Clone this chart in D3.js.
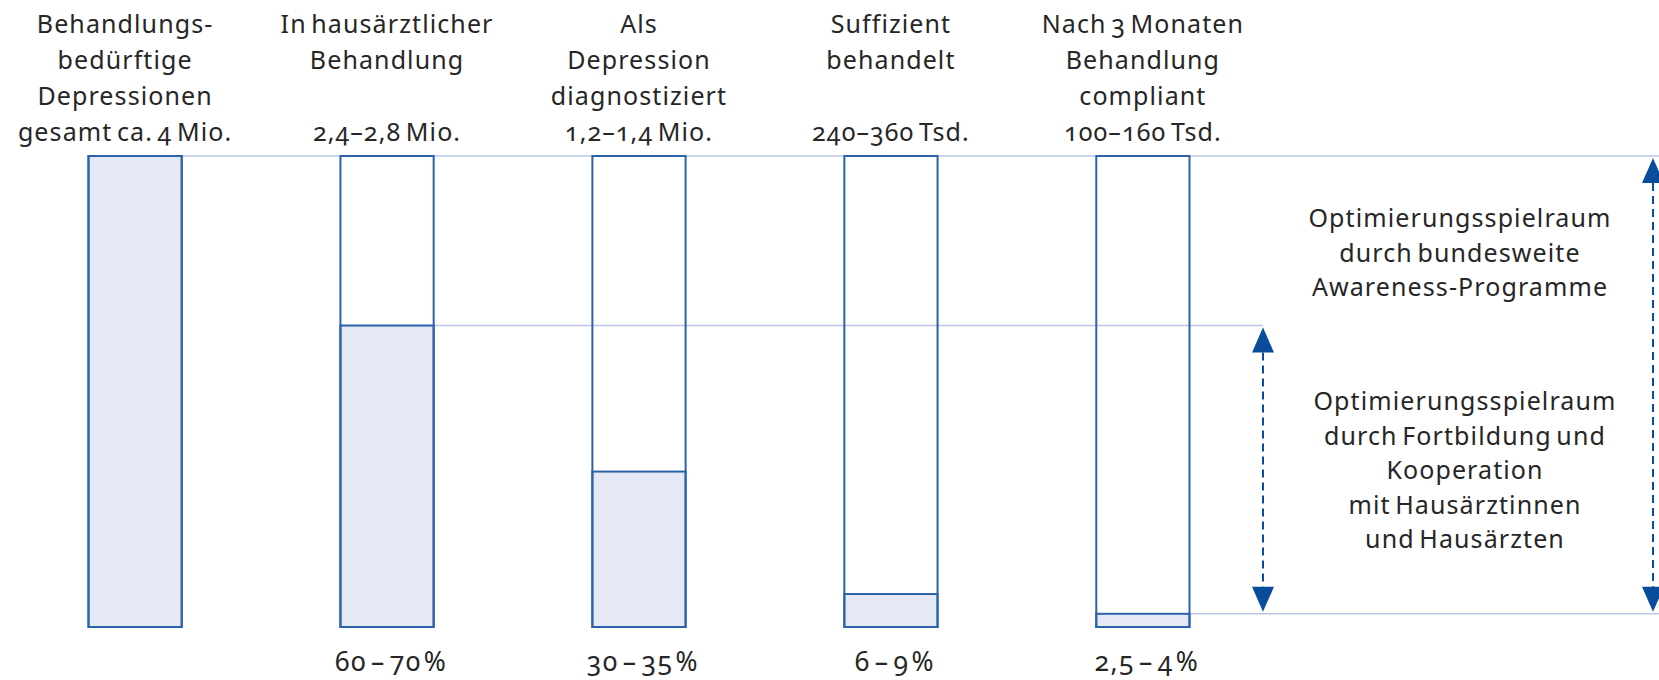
<!DOCTYPE html>
<html lang="de">
<head>
<meta charset="utf-8">
<script src="https://cdn.jsdelivr.net/npm/d3@7/dist/d3.min.js"></script>
<style>
  html, body { margin: 0; padding: 0; background: #fff; }
  svg text {
    font-family: "Noto Sans", "Open Sans", sans-serif;
    fill: #262626;
    font-variant-numeric: oldstyle-nums;
    font-feature-settings: "onum" 1;
  }
  .label { letter-spacing: 1.1px; word-spacing: -3px; }
  .pct { letter-spacing: 1.5px; }
</style>
</head>
<body>
<svg id="chart" width="1659" height="680"></svg>
<script>
// Stufen der Versorgung depressiver Patientinnen und Patienten
const stages = [
  ["Behandlungs-", "bedürftige", "Depressionen", "gesamt ca. 4 Mio."],
  ["In hausärztlicher", "Behandlung", "", "2,4–2,8 Mio."],
  ["Als", "Depression", "diagnostiziert", "1,2–1,4 Mio."],
  ["Suffizient", "behandelt", "", "240–360 Tsd."],
  ["Nach 3 Monaten", "Behandlung", "compliant", "100–160 Tsd."]
];
// Anteil an allen behandlungsbedürftigen Depressionen (%)
const share = [100, 64, 33, 7, 2.8];
const shareLabels = ["", "60–70%", "30–35%", "6–9%", "2,5–4%"];
const noteAwareness = ["Optimierungsspielraum", "durch bundesweite", "Awareness-Programme"];
const noteTraining = ["Optimierungsspielraum", "durch Fortbildung und", "Kooperation", "mit Hausärztinnen", "und Hausärzten"];

const svg = d3.select("#chart");
const W = 1659;

const x = d3.scaleBand()
  .domain(d3.range(stages.length))
  .range([88.5, 1189.5])
  .paddingInner(0.63)
  .paddingOuter(0);

const y = d3.scaleLinear().domain([0, 100]).range([627, 156]);

const dark = "#2c62aa";
const light = "#bcc7e6";
const fill = "#e5e9f6";
const arrowBlue = "#0a4c9c";

// Hilfslinien auf Höhe der Bezugsgrößen
const guides = svg.append("g");
guides.append("line")
  .attr("x1", x(0)).attr("x2", W)
  .attr("y1", y(share[0])).attr("y2", y(share[0]));
guides.append("line")
  .attr("x1", x(1)).attr("x2", 1263)
  .attr("y1", y(share[1])).attr("y2", y(share[1]));
guides.append("line")
  .attr("x1", x(4) + x.bandwidth()).attr("x2", W)
  .attr("y1", y(share[4])).attr("y2", y(share[4]));
guides.selectAll("line").attr("stroke", light).attr("stroke-width", 1.6);

// Balken: gefüllter Anteil plus Rahmen über die Gesamthöhe
const bars = svg.append("g").selectAll("g")
  .data(share)
  .join("g");

bars.append("rect")
  .attr("x", (d, i) => x(i))
  .attr("width", x.bandwidth())
  .attr("y", d => y(d))
  .attr("height", d => y(0) - y(d))
  .attr("fill", fill)
  .attr("stroke", dark)
  .attr("stroke-width", 2);

bars.append("rect")
  .attr("x", (d, i) => x(i))
  .attr("width", x.bandwidth())
  .attr("y", y(100))
  .attr("height", y(0) - y(100))
  .attr("fill", "none")
  .attr("stroke", dark)
  .attr("stroke-width", 2);

// Kopfzeilen über den Balken (erste Spalte etwas nach links gerückt)
const header = svg.append("g").attr("font-size", 25).attr("class", "label");
stages.forEach((lines, i) => {
  const g = header.append("g");
  const texts = lines.map((t, k) => g.append("text")
    .attr("y", 33 + k * 36)
    .attr("text-anchor", "middle")
    .text(t));
  const cx = x(i) + x.bandwidth() / 2 - (i === 0 ? 10 : 0);
  texts.forEach(t => t.attr("x", cx));
});

// Prozentangaben unter den Balken, Halbgeviertstrich mit Luft
const pct = svg.append("g").attr("font-size", 26.5).attr("class", "pct")
  .selectAll("text")
  .data(shareLabels)
  .join("text")
  .attr("x", (d, i) => x(i) + x.bandwidth() / 2 + 4)
  .attr("y", 671)
  .attr("text-anchor", "middle");
pct.each(function (d) {
  const [a, b] = d.split("–");
  if (b === undefined) return;
  const t = d3.select(this);
  t.append("tspan").text(a);
  t.append("tspan").attr("dx", 4).text("–");
  t.append("tspan").attr("dx", 4).text(b.replace("%", ""));
  t.append("tspan").attr("dx", 2).text("%");
});

// Doppelpfeile
function arrow(xPos, yTop, yBottom) {
  const g = svg.append("g");
  const head = 27, half = 11;
  g.append("line")
    .attr("x1", xPos).attr("x2", xPos)
    .attr("y1", yTop + head).attr("y2", yBottom - head)
    .attr("stroke", arrowBlue).attr("stroke-width", 2)
    .attr("stroke-dasharray", "8,5");
  g.append("path")
    .attr("d", `M${xPos},${yTop + 2}L${xPos - half},${yTop + head}L${xPos + half},${yTop + head}Z`)
    .attr("fill", arrowBlue);
  g.append("path")
    .attr("d", `M${xPos},${yBottom - 2}L${xPos - half},${yBottom - head}L${xPos + half},${yBottom - head}Z`)
    .attr("fill", arrowBlue);
}
arrow(1263, y(share[1]), y(share[4]));
arrow(1653, y(share[0]), y(share[4]));

// Erläuterungen rechts
function note(lines, cx, yFirst) {
  const g = svg.append("g").attr("font-size", 25).attr("class", "label");
  lines.forEach((t, k) => g.append("text")
    .attr("x", cx)
    .attr("y", yFirst + k * 34.5)
    .attr("text-anchor", "middle")
    .text(t));
}
note(noteAwareness, 1460, 227);
note(noteTraining, 1465, 410);
</script>
</body>
</html>
